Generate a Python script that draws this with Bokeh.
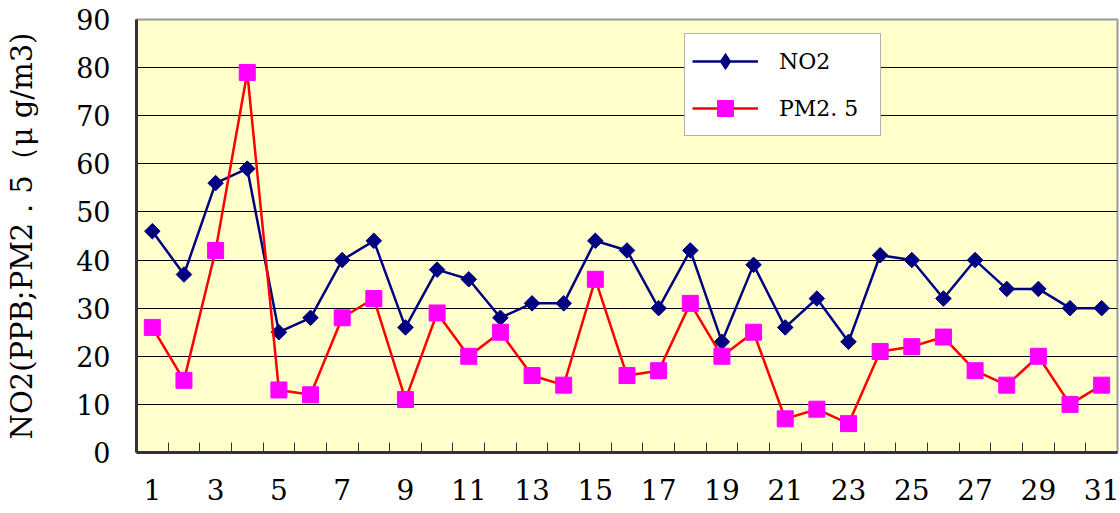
import math
from bokeh.plotting import figure
from bokeh.models import Range1d, FixedTicker, Legend, LegendItem
from bokeh.embed import file_html
from bokeh.resources import INLINE

days = list(range(1, 32))
no2 = [46, 37, 56, 59, 25, 28, 40, 44, 26, 38, 36, 28, 31, 31, 44, 42, 30, 42, 23, 39,
       26, 32, 23, 41, 40, 32, 40, 34, 34, 30, 30]
pm25 = [26, 15, 42, 79, 13, 12, 28, 32, 11, 29, 20, 25, 16, 14, 36, 16, 17, 31, 20, 25,
        7, 9, 6, 21, 22, 24, 17, 14, 20, 10, 14]
x_labels = [1, 3, 5, 7, 9, 11, 13, 15, 17, 19, 21, 23, 25, 27, 29, 31]
y_ticks = [0, 10, 20, 30, 40, 50, 60, 70, 80, 90]
y_title = "NO2(PPB;PM2．5（μ g/m3)"

FONT = "DejaVu Serif"

p = figure(width=1120, height=513, output_backend="svg", toolbar_location=None,
           x_range=Range1d(0.5, len(days) + 0.5), y_range=Range1d(0, 90),
           min_border_left=136, min_border_right=3, min_border_top=19, min_border_bottom=61)

p.background_fill_color = "#FFFFCC"
p.border_fill_color = "white"
p.outline_line_color = "#999999"
p.outline_line_width = 2

# axes
p.xaxis.ticker = FixedTicker(ticks=x_labels, minor_ticks=[d + 0.5 for d in days[:-1]])
p.xaxis.major_tick_line_color = None
p.xaxis.minor_tick_in = 10
p.xaxis.minor_tick_out = 0
p.xaxis.minor_tick_line_color = "#333333"
p.xaxis.axis_line_color = "#333333"
p.xaxis.axis_line_width = 3
p.xaxis.major_label_text_font = FONT
p.xaxis.major_label_text_font_size = "28px"
p.xaxis.major_label_text_color = "black"
p.xaxis.major_label_standoff = 20

p.yaxis.ticker = FixedTicker(ticks=y_ticks)
p.yaxis.major_tick_line_color = None
p.yaxis.minor_tick_line_color = None
p.yaxis.axis_line_color = "#333333"
p.yaxis.axis_line_width = 3
p.yaxis.major_label_text_font = FONT
p.yaxis.major_label_text_font_size = "27px"
p.yaxis.major_label_text_color = "black"
p.yaxis.major_label_standoff = 20
p.yaxis.axis_label = y_title
p.yaxis.axis_label_text_font = FONT
p.yaxis.axis_label_text_font_style = "normal"
p.yaxis.axis_label_text_font_size = "29px"
p.yaxis.axis_label_text_color = "black"
p.yaxis.axis_label_standoff = 34

p.xgrid.grid_line_color = None
p.ygrid.grid_line_color = "black"
p.ygrid.grid_line_width = 1

# series
l1 = p.line(days, no2, line_color="#000080", line_width=2.5)
m1 = p.scatter(days, no2, marker="square", angle=math.pi / 4, size=11,
               fill_color="#000080", line_color="#000080")
l2 = p.line(days, pm25, line_color="#FF0000", line_width=2.5)
m2 = p.scatter(days, pm25, marker="square", size=16,
               fill_color="#FF00FF", line_color="#FF00FF")
# legend-only proxy glyph (not drawn in the plot: y is NaN) for the diamond symbol
m1_key = p.scatter(x=days[:1], y=[float("nan")], marker="diamond", size=16,
                   fill_color="#000080", line_color="#000080")

legend = Legend(items=[LegendItem(label="NO2", renderers=[l1, m1_key]),
                       LegendItem(label="PM2. 5", renderers=[l2, m2])],
                location=(548, 316))
legend.background_fill_color = "white"
legend.background_fill_alpha = 1
legend.border_line_color = "#666666"
legend.border_line_width = 1.5
legend.label_text_font = FONT
legend.label_text_font_size = "22px"
legend.label_text_color = "black"
legend.glyph_width = 66
legend.glyph_height = 40
legend.label_height = 40
legend.label_width = 94
legend.label_standoff = 21
legend.spacing = 7
legend.padding = 7
legend.margin = 0
p.add_layout(legend)

open("out.html", "w").write(file_html(p, INLINE))
